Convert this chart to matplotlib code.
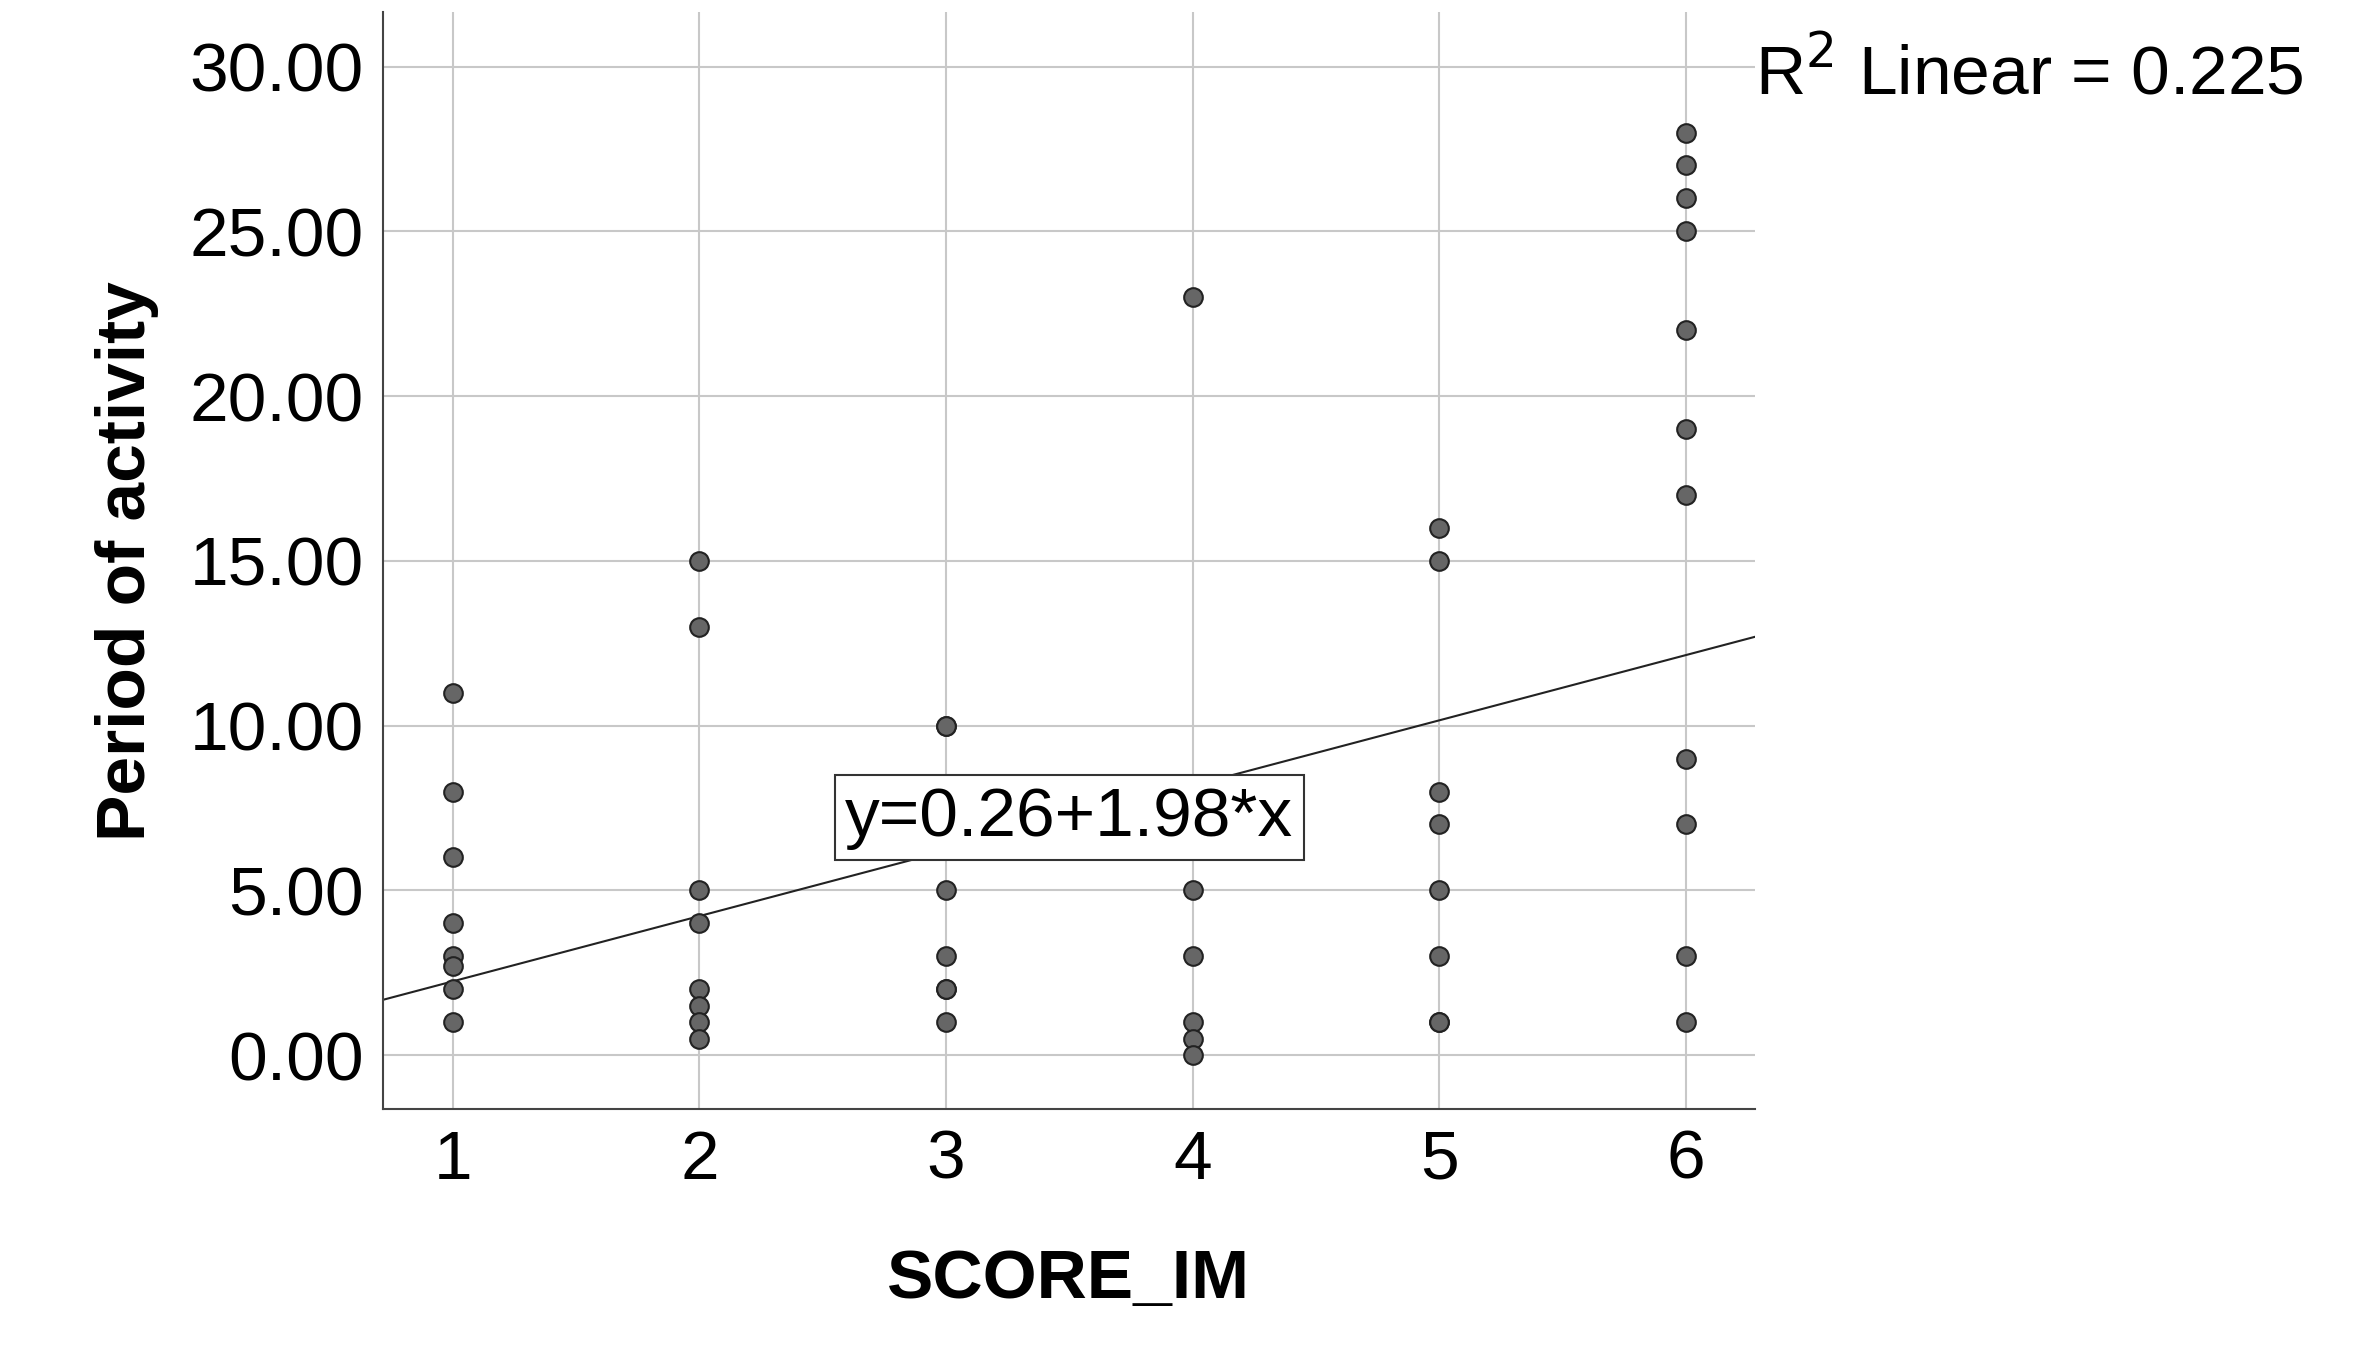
import matplotlib
matplotlib.use("Agg")
import matplotlib.pyplot as plt
import numpy as np

plt.rcParams['font.family'] = ['Liberation Sans', 'DejaVu Sans']

x1 = [1]*8; y1 = [11, 8, 6, 4, 3, 2.7, 2, 1]
x2 = [2]*8; y2 = [15, 13, 5, 4, 2, 1.5, 1, 0.5]
x3 = [3]*7; y3 = [10, 10, 5, 3, 2, 2, 1]
x4 = [4]*6; y4 = [23, 5, 3, 1, 0.5, 0]
x5 = [5]*8; y5 = [16, 15, 8, 7, 5, 3, 1, 1]
x6 = [6]*11; y6 = [28, 27, 26, 25, 22, 19, 17, 9, 7, 3, 1]
xs = x1 + x2 + x3 + x4 + x5 + x6
ys = y1 + y2 + y3 + y4 + y5 + y6
intercept, slope = 0.26, 1.98
r2 = 0.225
xticks = [1, 2, 3, 4, 5, 6]
yticks = [0, 5, 10, 15, 20, 25, 30]

fig = plt.figure(figsize=(23.65, 13.63), dpi=100)
ax = fig.add_axes([0.162, 0.186, 0.58, 0.805])
ax.set_xlim(0.717, 6.28)
ax.set_ylim(-1.65, 31.65)
ax.grid(True, color='#c8c8c8', linewidth=1.5)
ax.set_axisbelow(True)
ax.scatter(xs, ys, s=180, facecolor='#666666', edgecolor='#222222', linewidth=1.5, zorder=3)
lx = np.array(ax.get_xlim())
ax.plot(lx, intercept + slope * lx, color='#222222', linewidth=1.5, zorder=2)
ax.set_xticks(xticks)
ax.set_yticks(yticks)
ax.set_yticklabels([f"{v:.2f}" for v in yticks])
ax.tick_params(labelsize=50, length=0, pad=14)
for s in ['top', 'right']:
    ax.spines[s].set_visible(False)
for s in ['left', 'bottom']:
    ax.spines[s].set_color('#444444'); ax.spines[s].set_linewidth(1.5)
ax.set_xlabel('SCORE_IM', fontsize=50, fontweight='bold', labelpad=40)
ax.set_ylabel('Period of activity', fontsize=50, fontweight='bold', labelpad=22)
ax.text(3.5, 7.2, f"y={intercept}+{slope}*x", fontsize=50, ha='center', va='center',
        bbox=dict(boxstyle='square,pad=0.15', facecolor='white', edgecolor='#333333', linewidth=1.5), zorder=4)
fig.text(0.742, 0.945, f"R$^2$ Linear = {r2}", fontsize=50, ha='left', va='center')
fig.savefig('out.png', dpi=100)
